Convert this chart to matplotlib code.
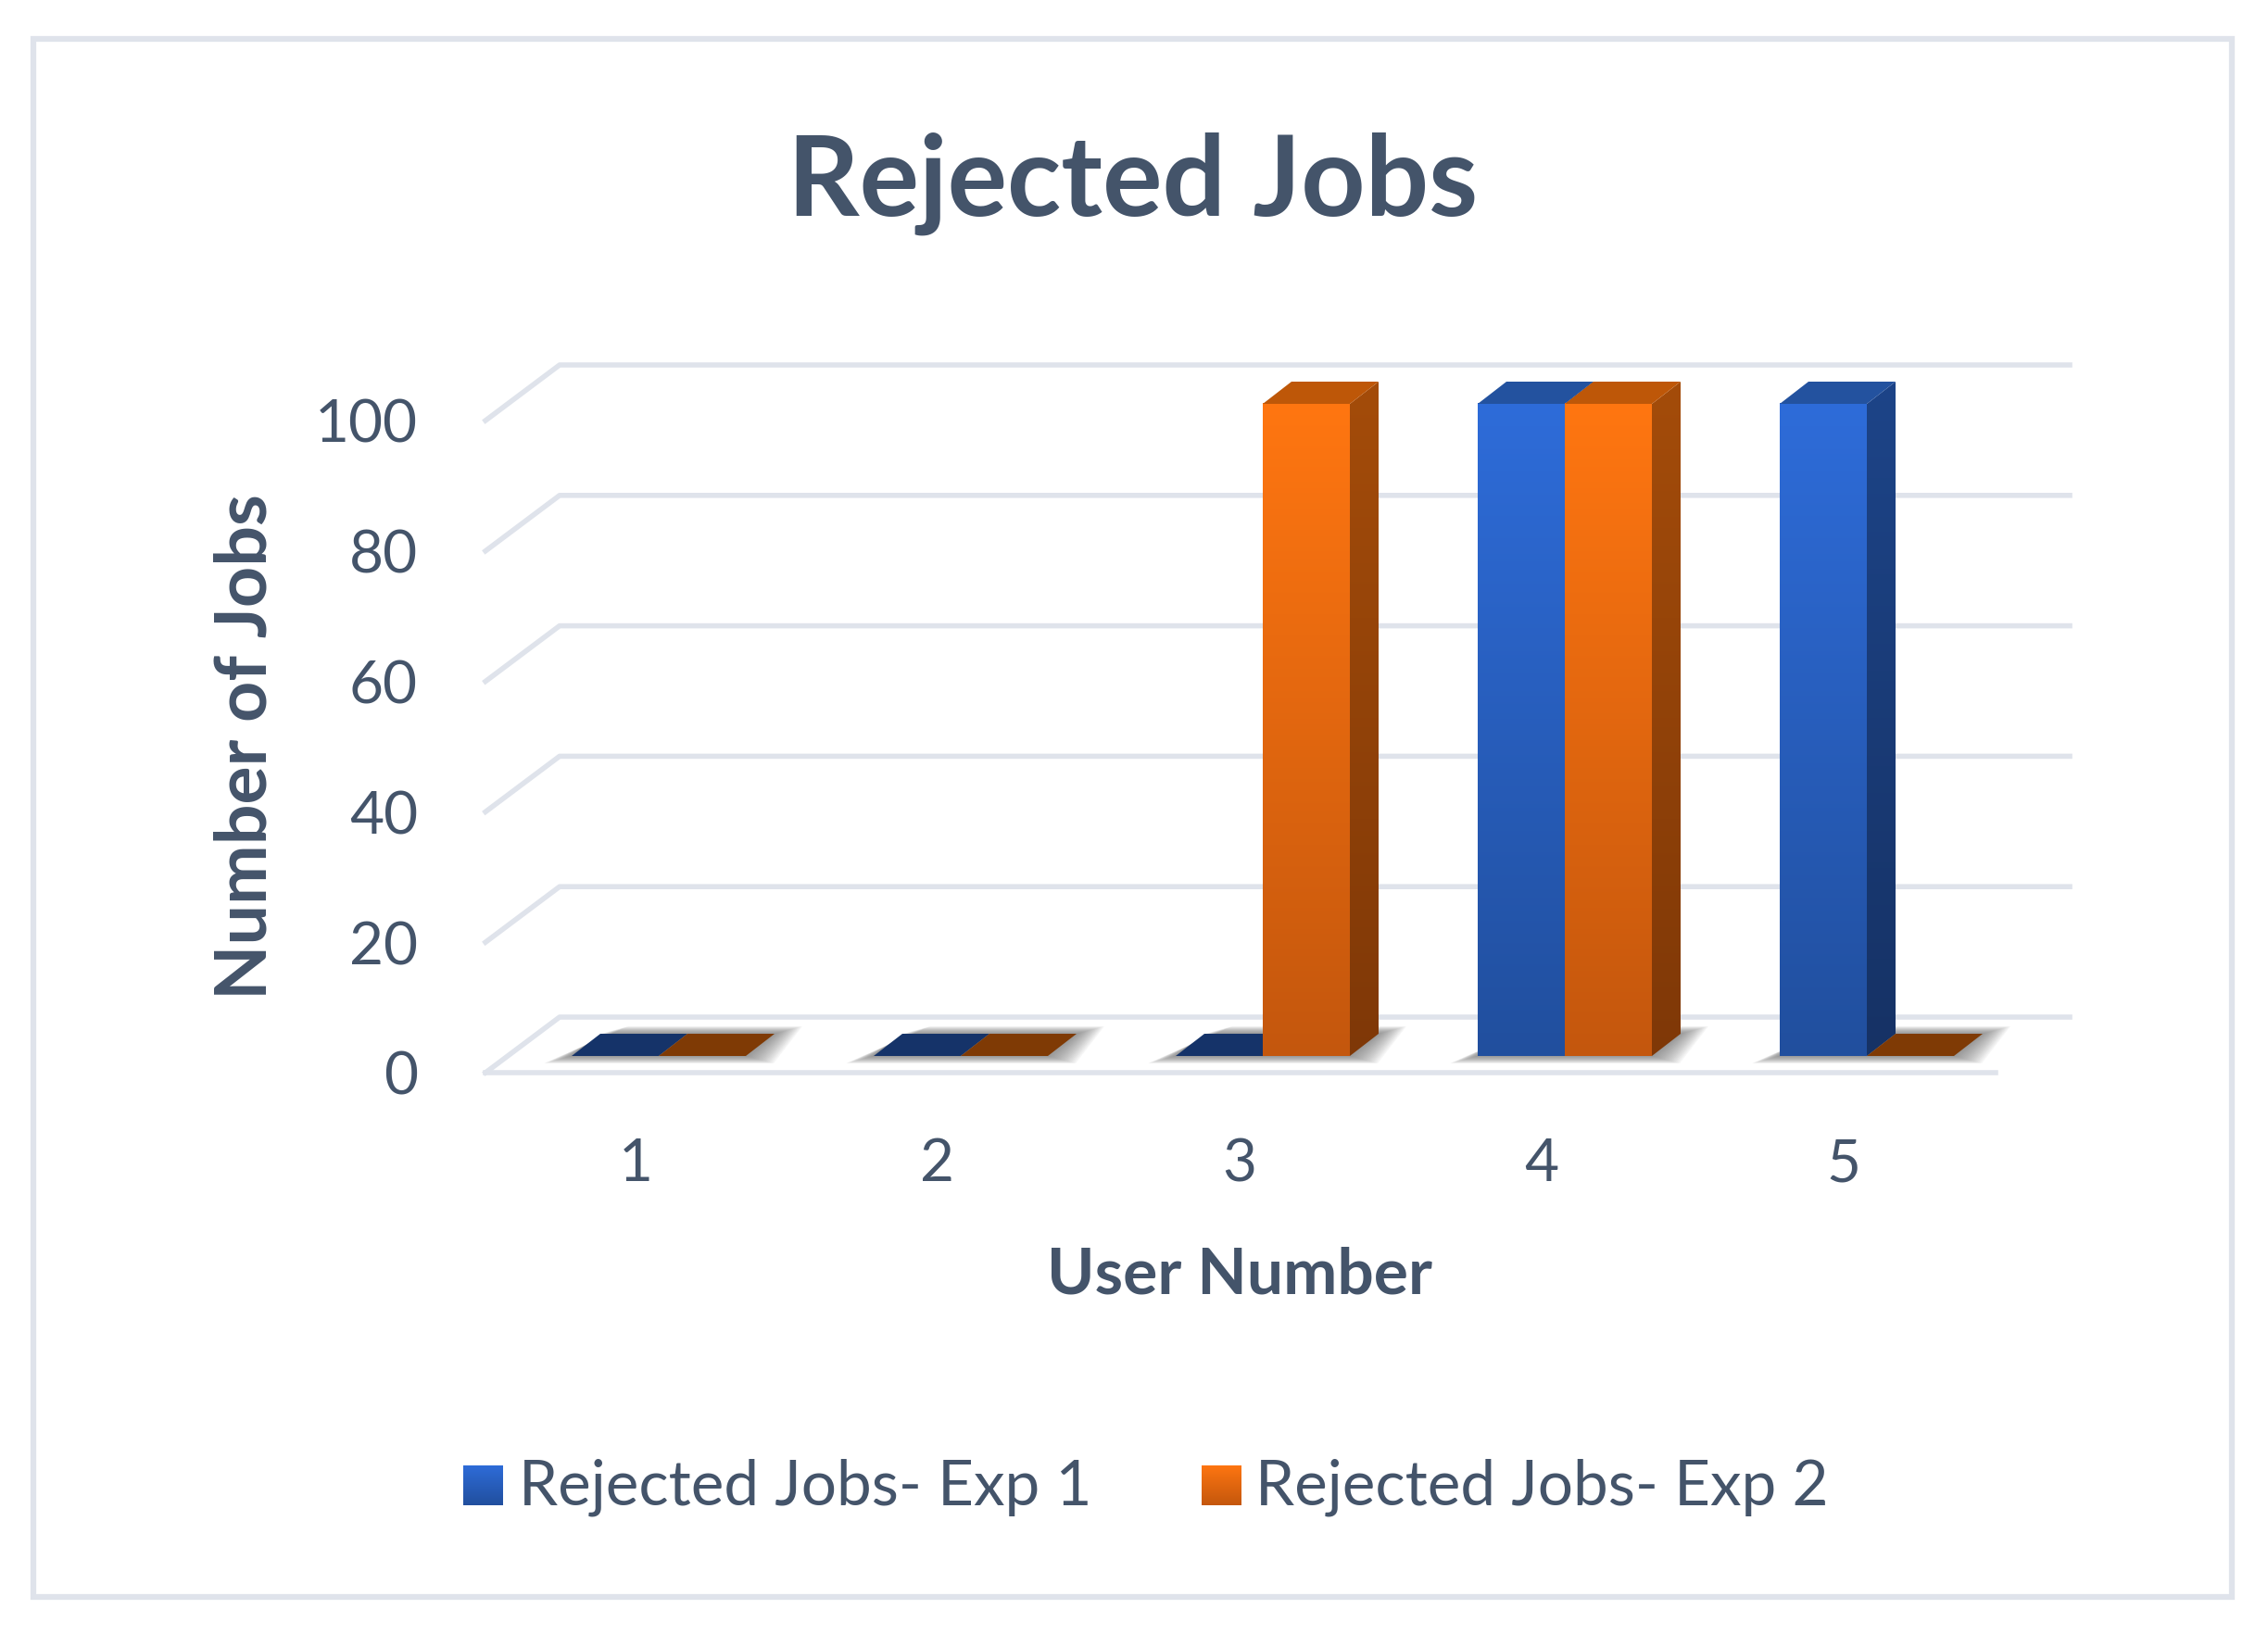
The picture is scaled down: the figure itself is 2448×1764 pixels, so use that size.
import numpy as np
import matplotlib
matplotlib.use('Agg')
import matplotlib.pyplot as plt
from matplotlib.patches import Polygon, Rectangle
from matplotlib.lines import Line2D
from matplotlib.colors import LinearSegmentedColormap

users = [1, 2, 3, 4, 5]
exp1 = [0, 0, 0, 100, 100]
exp2 = [0, 0, 100, 100, 0]
yticks = [0, 20, 40, 60, 80, 100]
series_names = ['Rejected Jobs- Exp 1', 'Rejected Jobs- Exp 2']
W, H = 2448, 1764
TEXT = '#44546A'
GRID = '#DFE3EB'
plt.rcParams['font.family'] = ['Lato', 'DejaVu Sans']

fig = plt.figure(figsize=(W / 100, H / 100), dpi=100, facecolor='white')

def fx(px):
    return px / W

def fy(py):
    return 1 - py / H

# chart frame
fig.add_artist(Rectangle((fx(36), fy(1724)), fx(2409) - fx(36), fy(42) - fy(1724),
                         transform=fig.transFigure, fill=False, ec=GRID, lw=4.5))

# axes = plane of the bar fronts
ax = fig.add_axes([fx(548), fy(1140), fx(2178) - fx(548), fy(436) - fy(1140)])
ax.set_xlim(0.5, 5.5)
ax.set_ylim(0, 100)
ax.axis('off')
ux = 1630 / 5   # px per category
uy = 704 / 100  # px per value

def off(dx_px, dy_px):
    return dx_px / ux, dy_px / uy

# walls
fdx, fdy = off(-24, -18)
bdx, bdy = off(56, 42)
for v in yticks:
    xs = [0.5 + fdx, 0.5 + bdx, 5.5 + bdx]
    ys = [v + fdy, v + bdy, v + bdy]
    ax.add_line(Line2D(xs, ys, color=GRID, lw=4, clip_on=False, zorder=1))
ax.add_line(Line2D([0.5 + fdx, 5.5 + fdx], [fdy, fdy], color=GRID, lw=4, clip_on=False, zorder=1))

blue = dict(front=('#2E6CD9', '#214F9E'), side=('#1D4488', '#163265'), top='#23529F', zero='#153369')
orange = dict(front=('#FF7611', '#C4570D'), side=('#A44C0A', '#7F3807'), top='#BE5708', zero='#7F3A05')
width = 94 / ux
ddx, ddy = off(31, 24)

def grad_cmap(c):
    return LinearSegmentedColormap.from_list('g', [c[0], c[1]])

grad = np.linspace(0, 1, 256).reshape(-1, 1)

def shadow(x0, x1):
    # blurred footprint, spreads more sideways than up and down
    for g in np.linspace(1, 0.05, 18):
        hx, hy = off(30 * g, 8 * g)
        pts = [(x0 - hx, -hy), (x1 + hx, -hy), (x1 + ddx + hx, ddy + hy), (x0 + ddx + hx, ddy + hy)]
        ax.add_patch(Polygon(pts, closed=True, fc='#707070', ec='none', alpha=0.06,
                             clip_on=False, zorder=2))

def clip_to(im, patch):
    # images get cut to the axes box unless the clip box is widened
    im.set_clip_on(True)
    im.set_clip_box(fig.bbox)
    im.set_clip_path(patch)

def draw_bar(x0, v, style, z):
    x1 = x0 + width
    if v == 0:
        ax.add_patch(Polygon([(x0, 0), (x1, 0), (x1 + ddx, ddy), (x0 + ddx, ddy)], closed=True,
                             fc=style['zero'], ec='none', clip_on=False, zorder=z))
        return
    ax.bar([x0], [v], width=width, align='edge', color='none', zorder=z)
    ax.imshow(grad, extent=[x0, x1, 0, v], origin='upper', aspect='auto',
              cmap=grad_cmap(style['front']), zorder=z, clip_on=False)
    side = Polygon([(x1, 0), (x1 + ddx, ddy), (x1 + ddx, v + ddy), (x1, v)], closed=True,
                   fc='none', ec='none', clip_on=False, zorder=z)
    ax.add_patch(side)
    ims = ax.imshow(grad, extent=[x1, x1 + ddx, 0, v + ddy], origin='upper', aspect='auto',
                    cmap=grad_cmap(style['side']), zorder=z)
    clip_to(ims, side)
    ax.add_patch(Polygon([(x0, v), (x1, v), (x1 + ddx, v + ddy), (x0 + ddx, v + ddy)], closed=True,
                         fc=style['top'], ec='none', clip_on=False, zorder=z))

for u in users:
    shadow(u - width, u + width)
for i, (u, a, b) in enumerate(zip(users, exp1, exp2)):
    draw_bar(u - width, a, blue, 3 + 2 * i)
    draw_bar(u, b, orange, 4 + 2 * i)

ax.set_xlim(0.5, 5.5)
ax.set_ylim(0, 100)

# tick labels
for v in yticks:
    ax.text(0.5 + fdx - 73 / ux, v + fdy - 6 / uy, str(v), ha='right', va='center', fontsize=46,
            color=TEXT, clip_on=False)
for u in users:
    ax.text(u + fdx - 1 / ux, -117 / uy, str(u), ha='center', va='center', fontsize=46, color=TEXT, clip_on=False)

fig.text(fx(1223), fy(198), 'Rejected Jobs', ha='center', va='center', fontsize=87,
         fontweight='bold', color=TEXT)
fig.text(fx(1338), fy(1377), 'User Number', ha='center', va='center', fontsize=50,
         fontweight='bold', color=TEXT)
fig.text(fx(266), fy(806), 'Number of Jobs', ha='center', va='center', rotation=90, fontsize=55.5,
         fontweight='bold', color=TEXT)

# legend
for name, style, sx, tx in zip(series_names, [blue, orange], [500, 1297], [560, 1355]):
    sw = fig.add_axes([fx(sx), fy(1625), fx(43), fy(1582) - fy(1625)])
    sw.imshow(grad, aspect='auto', cmap=grad_cmap(style['front']))
    sw.axis('off')
    fig.text(fx(tx), fy(1606), name, ha='left', va='center', fontsize=48.5, color=TEXT)

fig.savefig('out.png', dpi=100)
